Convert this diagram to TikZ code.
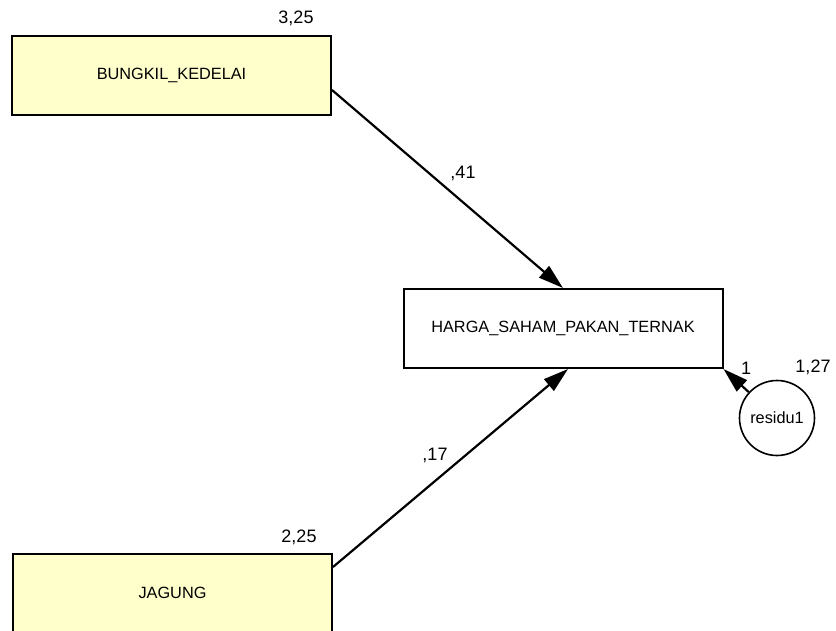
\documentclass[tikz,border=0pt]{standalone}
\usepackage{fontspec}
\setmainfont{Liberation Sans}
\usetikzlibrary{arrows.meta}
\definecolor{boxyellow}{RGB}{255,255,204}
\tikzset{
  obsbox/.style={draw=black, line width=2pt, minimum width=319pt, minimum height=79pt, inner sep=0pt, font=\fontsize{16.3}{19}\selectfont},
  errcirc/.style={draw=black, line width=1.6pt, circle, minimum size=75pt, inner sep=0pt, font=\fontsize{16.3}{19}\selectfont},
  lbl/.style={inner sep=0pt, font=\fontsize{18}{21}\selectfont},
  path/.style={draw=black, line width=2.2pt, -{Triangle[length=25pt,width=15pt]}}
}
\begin{document}
\begin{tikzpicture}[x=1pt,y=-1pt]
\useasboundingbox (0,0) rectangle (836,631);
\node[obsbox, fill=boxyellow] (bk) at (171.5,75.5) {BUNGKIL\_KEDELAI};
\node[obsbox, fill=boxyellow] (jg) at (172.5,593) {JAGUNG};
\node[obsbox, fill=white] (hs) at (563,328.5) {HARGA\_SAHAM\_PAKAN\_TERNAK};
\node[errcirc, fill=white] (res) at (777,418) {residu1};
\node[lbl] (v1) at (296,18) {3,25};
\node[lbl] (v2) at (299,537) {2,25};
\node[lbl] (v3) at (813,367) {1,27};
\draw[path] ([yshift=-14.5pt]bk.east) -- (hs.north);
\draw[path] ([yshift=26pt]jg.east) -- ([xshift=5pt]hs.south);
\draw[path] (res) -- (hs.south east);
\node[lbl] (c1) at (463,173) {,41};
\node[lbl] (c2) at (435,455) {,17};
\node[lbl] (c3) at (746,368) {1};
\end{tikzpicture}
\end{document}
